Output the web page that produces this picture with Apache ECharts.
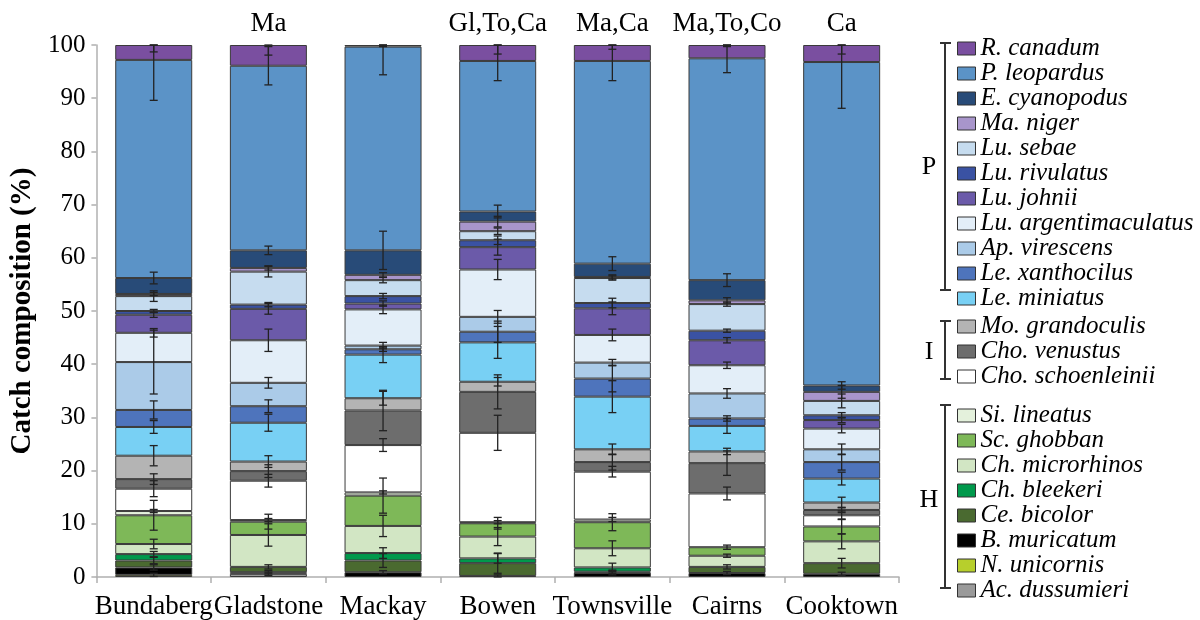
<!DOCTYPE html>
<html>
<head>
<meta charset="utf-8">
<script src="https://cdn.jsdelivr.net/npm/echarts@6/dist/echarts.min.js"></script>
<style>
  html, body { margin: 0; padding: 0; background: #fff; }
  #chart { width: 1200px; height: 620px; }
</style>
</head>
<body>
<div id="chart"></div>
<script>
// Sampling regions along the coast
const sites = ['Bundaberg', 'Gladstone', 'Mackay', 'Bowen', 'Townsville', 'Cairns', 'Cooktown'];
// Regions each one differs from significantly
const siteNotes = ['', 'Ma', '', 'Gl,To,Ca', 'Ma,Ca', 'Ma,To,Co', 'Ca'];

// Species in stacking order, bottom to top
const species = [
  'Ac. dussumieri', 'N. unicornis', 'B. muricatum', 'Ce. bicolor', 'Ch. bleekeri',
  'Ch. microrhinos', 'Sc. ghobban', 'Si. lineatus',
  'Cho. schoenleinii', 'Cho. venustus', 'Mo. grandoculis',
  'Le. miniatus', 'Le. xanthocilus', 'Ap. virescens', 'Lu. argentimaculatus',
  'Lu. johnii', 'Lu. rivulatus', 'Lu. sebae', 'Ma. niger', 'E. cyanopodus',
  'P. leopardus', 'R. canadum'
];

// Trophic groups (legend order, top to bottom)
const groupP = ['R. canadum', 'P. leopardus', 'E. cyanopodus', 'Ma. niger', 'Lu. sebae',
  'Lu. rivulatus', 'Lu. johnii', 'Lu. argentimaculatus', 'Ap. virescens',
  'Le. xanthocilus', 'Le. miniatus'];
const groupI = ['Mo. grandoculis', 'Cho. venustus', 'Cho. schoenleinii'];
const groupH = ['Si. lineatus', 'Sc. ghobban', 'Ch. microrhinos', 'Ch. bleekeri',
  'Ce. bicolor', 'B. muricatum', 'N. unicornis', 'Ac. dussumieri'];

const yTicks = [0, 10, 20, 30, 40, 50, 60, 70, 80, 90, 100];

// Catch composition (%) per site, same order as `species`
const bundaberg  = [0, 0.4, 1.4, 1.3, 1.2, 1.9, 5.4, 0.8, 4.2, 1.8, 4.4, 5.4, 3.2, 9.0, 5.5, 3.4, 0.7, 2.8, 0.4, 3.0, 41.0, 2.8];
const gladstone  = [0.6, 0, 0.3, 1.0, 0, 6.0, 2.5, 0.3, 7.4, 1.8, 1.8, 7.3, 3.1, 4.4, 8.0, 5.9, 0.8, 6.2, 0.7, 3.3, 34.7, 3.9];
const mackay     = [0, 0, 0.9, 2.2, 1.4, 5.1, 5.7, 0.6, 8.9, 6.5, 2.3, 8.2, 1.0, 0.7, 6.8, 1.1, 1.4, 3.0, 1.0, 4.6, 38.3, 0.3];
const bowen      = [0, 0, 0.2, 2.4, 0.9, 4.1, 2.5, 0.2, 16.8, 7.7, 1.9, 7.4, 2.0, 2.8, 8.9, 4.2, 1.3, 1.7, 1.8, 1.9, 28.3, 3.0];
const townsville = [0, 0, 0.8, 0.2, 0.8, 3.6, 4.9, 0.5, 9.0, 1.8, 2.4, 9.9, 3.4, 3.0, 5.2, 5.0, 1.0, 4.7, 0.2, 2.5, 38.1, 3.0];
const cairns     = [0, 0, 0.75, 1.15, 0, 2.1, 1.6, 0, 10.1, 5.7, 2.2, 4.8, 1.4, 4.7, 5.3, 4.7, 1.8, 5.0, 0.7, 3.8, 41.7, 2.5];
const cooktown   = [0, 0, 0.6, 2.0, 0, 4.1, 2.8, 0, 2.1, 1.0, 1.4, 4.5, 3.1, 2.4, 3.9, 1.6, 0.9, 2.7, 1.7, 1.2, 60.8, 3.2];

// Standard errors per site, same order as `species`
const bundabergErr  = [0, 0.3, 0.5, 0.6, 0.5, 0.9, 2.8, 0.3, 1.5, 1.0, 1.9, 1.2, 1.7, 6.0, 0.8, 0.5, 0.3, 1.0, 0.3, 1.1, 7.6, 1.3];
const gladstoneErr  = [0.3, 0, 0.3, 0.4, 0, 2.1, 1.4, 0.3, 1.2, 1.2, 1.1, 1.6, 1.2, 1.0, 2.1, 1.0, 0.4, 1.0, 0.4, 0.8, 3.6, 1.9];
const mackayErr     = [0, 0, 0.3, 1.3, 1.0, 2.0, 3.3, 0.3, 1.2, 3.8, 1.3, 1.5, 0.4, 0.6, 0.8, 0.5, 0.5, 0.5, 0.4, 3.6, 5.3, 0.3];
const bowenErr      = [0, 0, 0.2, 1.9, 0.9, 1.7, 1.1, 0.3, 3.3, 3.2, 0.8, 3.0, 2.0, 1.2, 1.9, 1.5, 0.8, 0.6, 1.0, 1.2, 3.7, 1.7];
const townsvilleErr = [0, 0, 0.4, 0.3, 0.8, 1.4, 1.6, 0.4, 1.0, 1.5, 1.0, 3.0, 2.5, 0.6, 1.1, 1.2, 0.9, 0.4, 0.4, 1.3, 3.7, 0.8];
const cairnsErr     = [0, 0, 0.3, 0.4, 0, 0.3, 0.4, 0, 1.2, 2.3, 0.6, 1.4, 0.5, 0.9, 0.6, 0.5, 0.3, 0.4, 0.5, 1.2, 2.7, 0.3];
const cooktownErr   = [0, 0, 0.3, 0.9, 0, 1.4, 1.4, 0, 0.8, 0.5, 1.0, 1.2, 1.5, 1.0, 0.8, 0.5, 0.5, 1.3, 1.2, 0.7, 8.7, 1.7];

// Fill colours, same order as `species`
const speciesColors = [
  '#9a9a9a', '#b7cf2c', '#000000', '#4a6a30', '#00994c',
  '#d2e6c4', '#7eb858', '#e4f1dc',
  '#ffffff', '#6d6d6d', '#b4b4b4',
  '#78d0f4', '#4e74bc', '#abcbe8', '#e3eef8',
  '#6b5aa9', '#3a52a3', '#c6dcef', '#a895cb', '#284b78',
  '#5b93c7', '#7a4fa0'
];

const composition = [bundaberg, gladstone, mackay, bowen, townsville, cairns, cooktown];
const errors = [bundabergErr, gladstoneErr, mackayErr, bowenErr, townsvilleErr, cairnsErr, cooktownErr];

const FONT = "'Liberation Serif', 'DejaVu Serif', serif";
const INK = '#000';

// Stacked bar series, one per species
const barSeries = species.map((name, i) => ({
  type: 'bar',
  name: name,
  stack: 'catch',
  barWidth: 77,
  silent: true,
  itemStyle: { color: speciesColors[i], borderColor: '#3a3a3a', borderWidth: 1 },
  emphasis: { disabled: true },
  data: composition.map(site => (site[i] > 0 ? site[i] : '-'))
}));

// Error bars sit at the top of each stacked segment
const errorData = [];
composition.forEach((site, s) => {
  let cum = 0;
  site.forEach((v, i) => {
    cum += v;
    if (v > 0 && errors[s][i] > 0) errorData.push([s, cum, errors[s][i]]);
  });
});

const errorSeries = {
  type: 'custom',
  name: 'SE',
  silent: true,
  z: 10,
  encode: { x: 0, y: 1 },
  data: errorData,
  renderItem: function (params, api) {
    const x = api.value(0), top = api.value(1), e = api.value(2);
    const lo = api.coord([x, Math.max(0, top - e)]);
    const hi = api.coord([x, Math.min(100, top + e)]);
    const w = 4;
    const st = { stroke: '#222', lineWidth: 1.3 };
    return {
      type: 'group',
      children: [
        { type: 'line', shape: { x1: lo[0], y1: lo[1], x2: hi[0], y2: hi[1] }, style: st },
        { type: 'line', shape: { x1: lo[0] - w, y1: lo[1], x2: lo[0] + w, y2: lo[1] }, style: st },
        { type: 'line', shape: { x1: hi[0] - w, y1: hi[1], x2: hi[0] + w, y2: hi[1] }, style: st }
      ]
    };
  }
};

const legendBase = {
  orient: 'vertical',
  left: 957,
  padding: 0,
  itemWidth: 18,
  itemHeight: 13,
  itemGap: 0,
  icon: 'rect',
  selectedMode: false,
  itemStyle: { borderColor: '#333', borderWidth: 1 },
  textStyle: { fontFamily: FONT, fontStyle: 'italic', fontSize: 25, color: INK, lineHeight: 24 }
};

// Group brackets beside the legend
function bracket(y1, y2) {
  const x = 945;
  const st = { stroke: '#333', lineWidth: 2 };
  return [
    { type: 'line', shape: { x1: x, y1: y1, x2: x, y2: y2 }, style: st },
    { type: 'line', shape: { x1: x - 5, y1: y1, x2: x + 6, y2: y1 }, style: st },
    { type: 'line', shape: { x1: x - 5, y1: y2, x2: x + 6, y2: y2 }, style: st }
  ];
}
function groupLabel(text, y) {
  return { type: 'text', x: 929, y: y, style: { text: text, fontFamily: FONT, fontSize: 26, fill: INK, align: 'center', verticalAlign: 'middle' } };
}

const chart = echarts.init(document.getElementById('chart'));
chart.setOption({
  backgroundColor: '#fff',
  animation: false,
  grid: { left: 88, right: 301, top: 45, bottom: 42, containLabel: false },
  xAxis: [
    {
      type: 'category',
      data: sites,
      axisLine: { lineStyle: { color: '#b0b0b0', width: 1.5 } },
      axisTick: { show: true, length: 6, lineStyle: { color: '#b0b0b0', width: 1.5 } },
      axisLabel: { interval: 0, margin: 16, fontFamily: FONT, fontSize: 27, color: INK }
    },
    {
      // significance notes printed above each bar
      type: 'category',
      position: 'top',
      data: sites,
      axisLine: { show: false },
      axisTick: { show: false },
      splitLine: { show: false },
      axisLabel: {
        interval: 0, margin: 8, fontFamily: FONT, fontSize: 27, color: INK,
        formatter: (v, i) => siteNotes[i]
      }
    }
  ],
  yAxis: {
    type: 'value',
    min: yTicks[0],
    max: yTicks[yTicks.length - 1],
    interval: 10,
    name: 'Catch composition (%)',
    nameLocation: 'middle',
    nameGap: 52,
    nameTextStyle: { fontFamily: FONT, fontWeight: 'bold', fontSize: 29, color: INK },
    axisLine: { show: true, lineStyle: { color: '#b0b0b0', width: 1.5 } },
    axisTick: { show: true, length: 5, lineStyle: { color: '#b0b0b0', width: 1.5 } },
    splitLine: { show: false },
    axisLabel: { margin: 11, fontFamily: FONT, fontSize: 25, color: INK }
  },
  legend: [
    Object.assign({}, legendBase, { top: 36, data: groupP }),
    Object.assign({}, legendBase, { top: 314, data: groupI,
      textStyle: Object.assign({}, legendBase.textStyle, { lineHeight: 25 }) }),
    Object.assign({}, legendBase, { top: 403, data: groupH })
  ],
  graphic: [].concat(
    bracket(43, 290), bracket(321, 379), bracket(405, 588),
    [groupLabel('P', 167), groupLabel('I', 352), groupLabel('H', 500)]
  ),
  series: barSeries.concat([errorSeries])
});
</script>
</body>
</html>
